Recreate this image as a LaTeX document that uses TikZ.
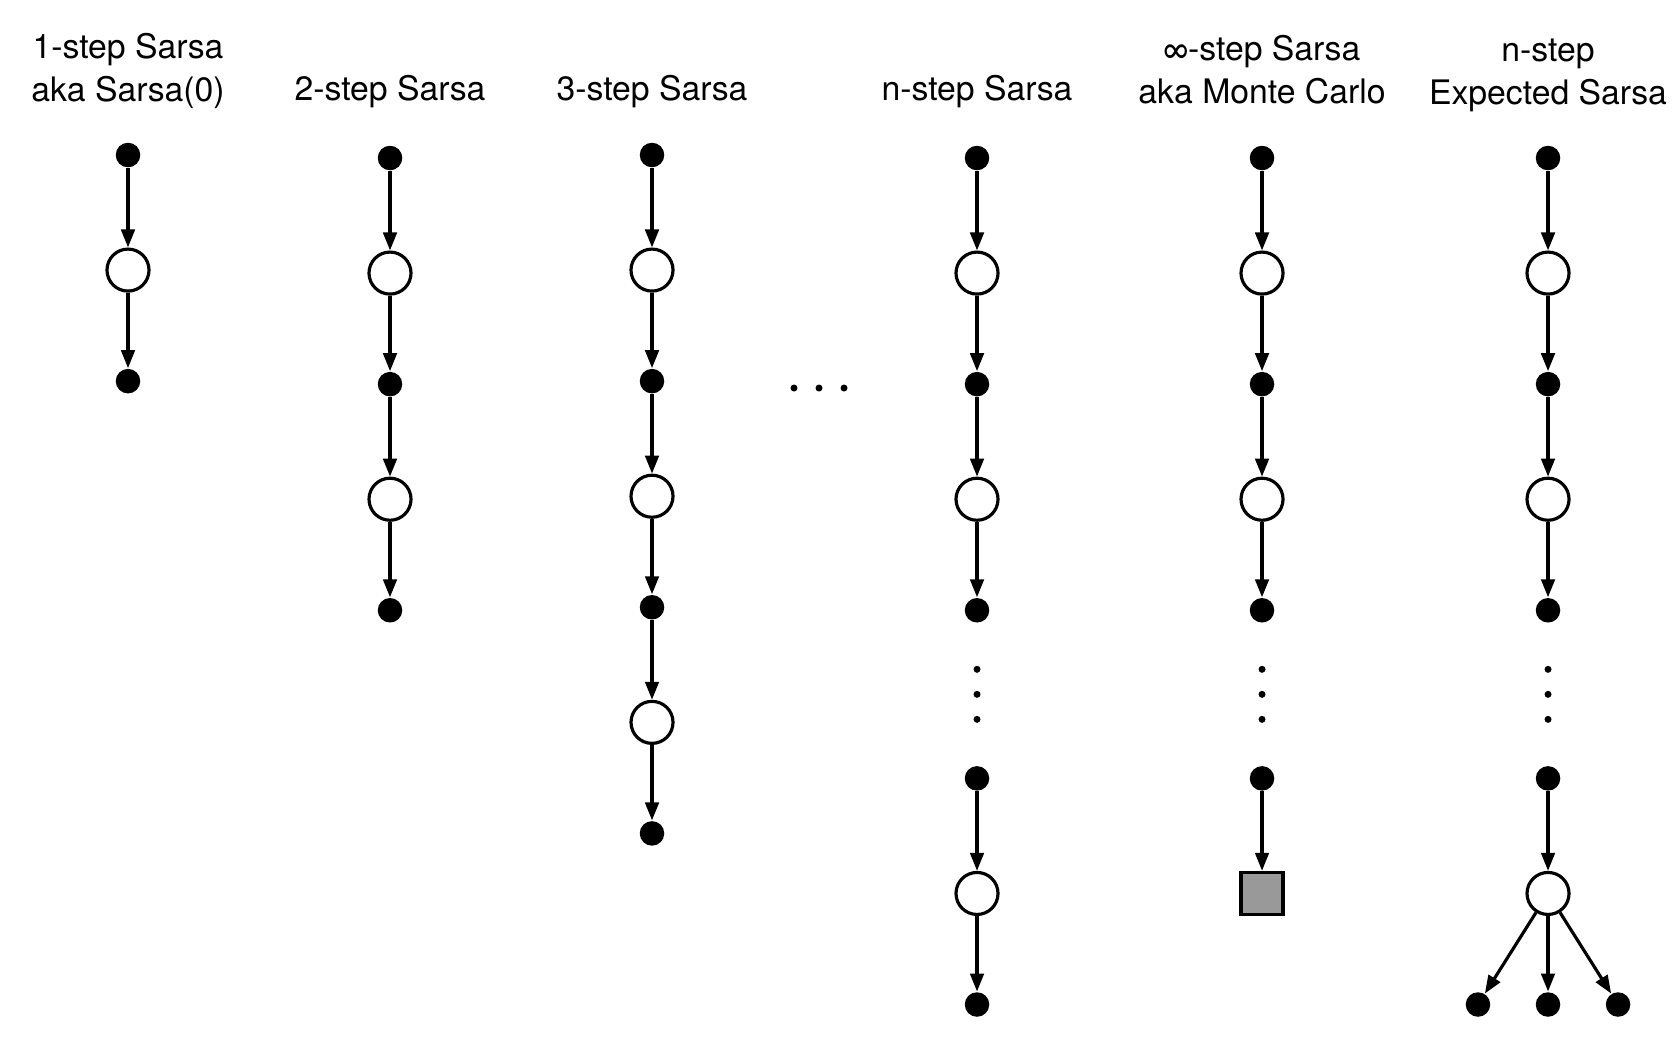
\documentclass[tikz,border=0pt]{standalone}
\usepackage{fontspec}
\setmainfont{TeX Gyre Heros}
\usetikzlibrary{positioning,arrows.meta}

\tikzset{
  state/.style={circle, fill=black, inner sep=0pt, minimum size=0.245cm},
  action/.style={circle, draw, line width=0.9pt, fill=white, inner sep=0pt, minimum size=0.42cm},
  terminal/.style={rectangle, draw, line width=0.9pt, fill=black!40, inner sep=0pt, minimum size=0.42cm},
  gapdot/.style={circle, fill=black, inner sep=0pt, minimum size=0.07cm},
  title/.style={align=center, font=\fontsize{9.6}{12.2}\selectfont},
  arc/.style={-{Triangle[length=0.18cm,width=0.135cm]}, line width=0.9pt},
  sa/.style={below=1.15cm of #1},
  as/.style={below=1.11cm of #1},
}

\begin{document}
\begin{tikzpicture}[x=0.01cm, y=0.01cm, on grid]
    \useasboundingbox (0,0) rectangle (1674,-1038);

    \node[title] (ta) at (128,-71) {1-step Sarsa\\aka Sarsa(0)};
    \node[title] (tb) at (390,-92) {2-step Sarsa};
    \node[title] (tc) at (652,-92) {3-step Sarsa};
    \node[title] (tn) at (977,-92) {n-step Sarsa};
    \node[title] (tm) at (1262,-70) {∞-step Sarsa\\aka Monte Carlo};
    \node[title] (te) at (1548,-75) {n-step\\Expected Sarsa};

    \node[state] (a0) at (128,-155) {};
    \node[action, sa=a0] (a1) {};
    \node[state, as=a1] (a2) {};

    \node[state] (b0) at (390,-158) {};
    \node[action, sa=b0] (b1) {};
    \node[state, as=b1] (b2) {};
    \node[action, sa=b2] (b3) {};
    \node[state, as=b3] (b4) {};

    \node[state] (c0) at (652,-155) {};
    \node[action, sa=c0] (c1) {};
    \node[state, as=c1] (c2) {};
    \node[action, sa=c2] (c3) {};
    \node[state, as=c3] (c4) {};
    \node[action, sa=c4] (c5) {};
    \node[state, as=c5] (c6) {};

    \node[gapdot] (h1) at (794,-388) {};
    \node[gapdot, right=0.25cm of h1] (h2) {};
    \node[gapdot, right=0.25cm of h2] (h3) {};

    \node[state] (n0) at (977,-158) {};
    \node[action, sa=n0] (n1) {};
    \node[state, as=n1] (n2) {};
    \node[action, sa=n2] (n3) {};
    \node[state, as=n3] (n4) {};
    \node[gapdot, below=0.59cm of n4] (nv1) {};
    \node[gapdot, below=0.25cm of nv1] (nv2) {};
    \node[gapdot, below=0.25cm of nv2] (nv3) {};
    \node[state, below=0.59cm of nv3] (n5) {};
    \node[action, sa=n5] (n6) {};
    \node[state, as=n6] (n7) {};

    \node[state] (m0) at (1262,-158) {};
    \node[action, sa=m0] (m1) {};
    \node[state, as=m1] (m2) {};
    \node[action, sa=m2] (m3) {};
    \node[state, as=m3] (m4) {};
    \node[gapdot, below=0.59cm of m4] (mv1) {};
    \node[gapdot, below=0.25cm of mv1] (mv2) {};
    \node[gapdot, below=0.25cm of mv2] (mv3) {};
    \node[state, below=0.59cm of mv3] (m5) {};
    \node[terminal, sa=m5] (m6) {};

    \node[state] (e0) at (1548,-158) {};
    \node[action, sa=e0] (e1) {};
    \node[state, as=e1] (e2) {};
    \node[action, sa=e2] (e3) {};
    \node[state, as=e3] (e4) {};
    \node[gapdot, below=0.59cm of e4] (ev1) {};
    \node[gapdot, below=0.25cm of ev1] (ev2) {};
    \node[gapdot, below=0.25cm of ev2] (ev3) {};
    \node[state, below=0.59cm of ev3] (e5) {};
    \node[action, sa=e5] (e6) {};
    \node[state, below left=1.11cm and 0.7cm of e6] (e7) {};
    \node[state, as=e6] (e8) {};
    \node[state, below right=1.11cm and 0.7cm of e6] (e9) {};

    \draw[arc] (a0) -- (a1);
    \draw[arc] (a1) -- (a2);

    \draw[arc] (b0) -- (b1);
    \draw[arc] (b1) -- (b2);
    \draw[arc] (b2) -- (b3);
    \draw[arc] (b3) -- (b4);

    \draw[arc] (c0) -- (c1);
    \draw[arc] (c1) -- (c2);
    \draw[arc] (c2) -- (c3);
    \draw[arc] (c3) -- (c4);
    \draw[arc] (c4) -- (c5);
    \draw[arc] (c5) -- (c6);

    \draw[arc] (n0) -- (n1);
    \draw[arc] (n1) -- (n2);
    \draw[arc] (n2) -- (n3);
    \draw[arc] (n3) -- (n4);
    \draw[arc] (n5) -- (n6);
    \draw[arc] (n6) -- (n7);

    \draw[arc] (m0) -- (m1);
    \draw[arc] (m1) -- (m2);
    \draw[arc] (m2) -- (m3);
    \draw[arc] (m3) -- (m4);
    \draw[arc] (m5) -- (m6);

    \draw[arc] (e0) -- (e1);
    \draw[arc] (e1) -- (e2);
    \draw[arc] (e2) -- (e3);
    \draw[arc] (e3) -- (e4);
    \draw[arc] (e5) -- (e6);
    \draw[arc] (e6) -- (e7);
    \draw[arc] (e6) -- (e8);
    \draw[arc] (e6) -- (e9);
\end{tikzpicture}
\end{document}
